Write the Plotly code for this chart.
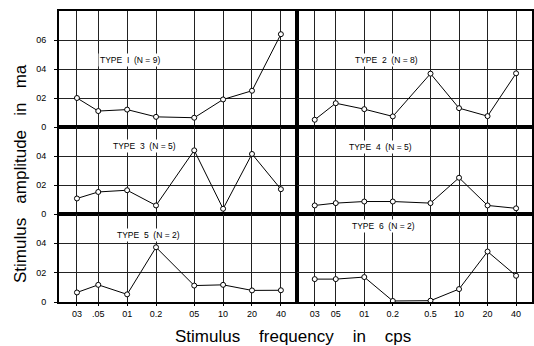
import plotly.graph_objects as go

freqs = [0.03, 0.05, 0.1, 0.2, 0.5, 1.0, 2.0, 4.0]
tick_left = ["03", ".05", "01", "0.2", "05", "10", "20", "40"]
tick_right = ["03", "05", "01", "0.2", "0.5", "10", "20", "40"]

type1 = [0.20, 0.11, 0.12, 0.07, 0.064, 0.19, 0.25, 0.64]
type2 = [0.05, 0.164, 0.123, 0.073, 0.368, 0.13, 0.075, 0.37]
type3 = [0.107, 0.152, 0.164, 0.059, 0.439, 0.036, 0.414, 0.171]
type4 = [0.059, 0.075, 0.086, 0.086, 0.075, 0.25, 0.059, 0.039]
type5 = [0.065, 0.117, 0.052, 0.373, 0.112, 0.117, 0.079, 0.08]
type6 = [0.156, 0.156, 0.17, 0.007, 0.009, 0.088, 0.344, 0.179]

labels = ["TYPE  I  (N = 9)", "TYPE  2  (N = 8)", "TYPE  3  (N = 5)",
          "TYPE  4  (N = 5)", "TYPE  5  (N = 2)", "TYPE  6  (N = 2)"]
series = [type1, type2, type3, type4, type5, type6]

W, H = 534, 346
xl = [59 / W, 297 / W]
xr = [297 / W, 532 / W]
rows_px = [(11, 127), (127, 214), (214, 302)]
ydom = [[1 - b / H, 1 - t / H] for t, b in rows_px]
yranges = [[0, 0.8], [0, 0.6], [0, 0.6]]

FONT = "Liberation Sans"
fig = go.Figure()

label_pos = [(0.30, 0.578), (0.379, 0.578), (0.361, 0.78),
             (0.357, 0.77), (0.374, 0.76), (0.37, 0.86)]

for i, (vals, lab) in enumerate(zip(series, labels)):
    r, c = divmod(i, 2)
    n = i + 1
    xa = "x" if n == 1 else f"x{n}"
    ya = "y" if n == 1 else f"y{n}"
    fig.add_trace(go.Scatter(
        x=freqs, y=vals, mode="lines+markers", xaxis=xa, yaxis=ya,
        line=dict(color="black", width=1),
        marker=dict(symbol="circle", size=5, color="white",
                    line=dict(color="black", width=1)),
        showlegend=False, cliponaxis=False, hoverinfo="skip"))
    bottom = (r == 2)
    xkey = "xaxis" if n == 1 else f"xaxis{n}"
    ykey = "yaxis" if n == 1 else f"yaxis{n}"
    ymax = yranges[r][1]
    yt = [v / 10 for v in range(0, int(round(ymax * 10)), 2)]
    ytext = ["0" if v == 0 else "0" + str(int(round(v * 10))) for v in yt]
    fig.layout[xkey] = dict(
        type="log", domain=xl if c == 0 else xr,
        range=[-1.71, 0.77], anchor=ya, automargin=False,
        tickvals=freqs, ticktext=(tick_left if c == 0 else tick_right),
        showticklabels=bottom, ticks="outside" if bottom else "", ticklen=2,
        tickcolor="black",
        showgrid=True, gridcolor="#222", gridwidth=1,
        showline=True, mirror=True, linecolor="black", linewidth=2,
        tickfont=dict(family=FONT, size=9, color="black"),
        zeroline=False, fixedrange=True)
    fig.layout[ykey] = dict(
        domain=ydom[r], range=yranges[r], anchor=xa, automargin=False,
        tickvals=yt, ticktext=ytext,
        showticklabels=(c == 0), ticks="outside" if c == 0 else "",
        ticklen=3, tickcolor="black",
        showgrid=True, gridcolor="#222", gridwidth=1,
        showline=True, mirror=True, linecolor="black", linewidth=2,
        zeroline=True, zerolinecolor="black", zerolinewidth=2,
        tickfont=dict(family=FONT, size=9, color="black"),
        ticklabelstandoff=6, fixedrange=True)
    lx, ly = label_pos[i]
    fig.add_annotation(text=lab, xref=f"{xa} domain", yref=f"{ya} domain",
                       x=lx, y=ly, xanchor="center", yanchor="middle",
                       showarrow=False,
                       font=dict(family=FONT, size=8.5, color="black"),
                       bgcolor="white", borderpad=1)

sp = "\u00a0"
fig.add_annotation(text=f"Stimulus{sp*3}amplitude{sp*3}in{sp*3}ma",
                   xref="paper", yref="paper", x=20 / W, y=1 - 174 / H,
                   xanchor="center", yanchor="middle",
                   textangle=-90, showarrow=False,
                   font=dict(family=FONT, size=17, color="black"))
fig.add_annotation(text=f"Stimulus{sp*4}frequency{sp*4}in{sp*4}cps",
                   xref="paper", yref="paper", x=293 / W, y=1 - 336 / H,
                   xanchor="center", yanchor="middle",
                   showarrow=False,
                   font=dict(family=FONT, size=17, color="black"))

fig.update_layout(width=W, height=H, margin=dict(l=0, r=0, t=0, b=0, pad=0),
                  paper_bgcolor="white", plot_bgcolor="white")
fig.write_html("out.html", config={"displayModeBar": False},
               post_script="document.body.style.margin='0';document.body.style.overflow='hidden';")
